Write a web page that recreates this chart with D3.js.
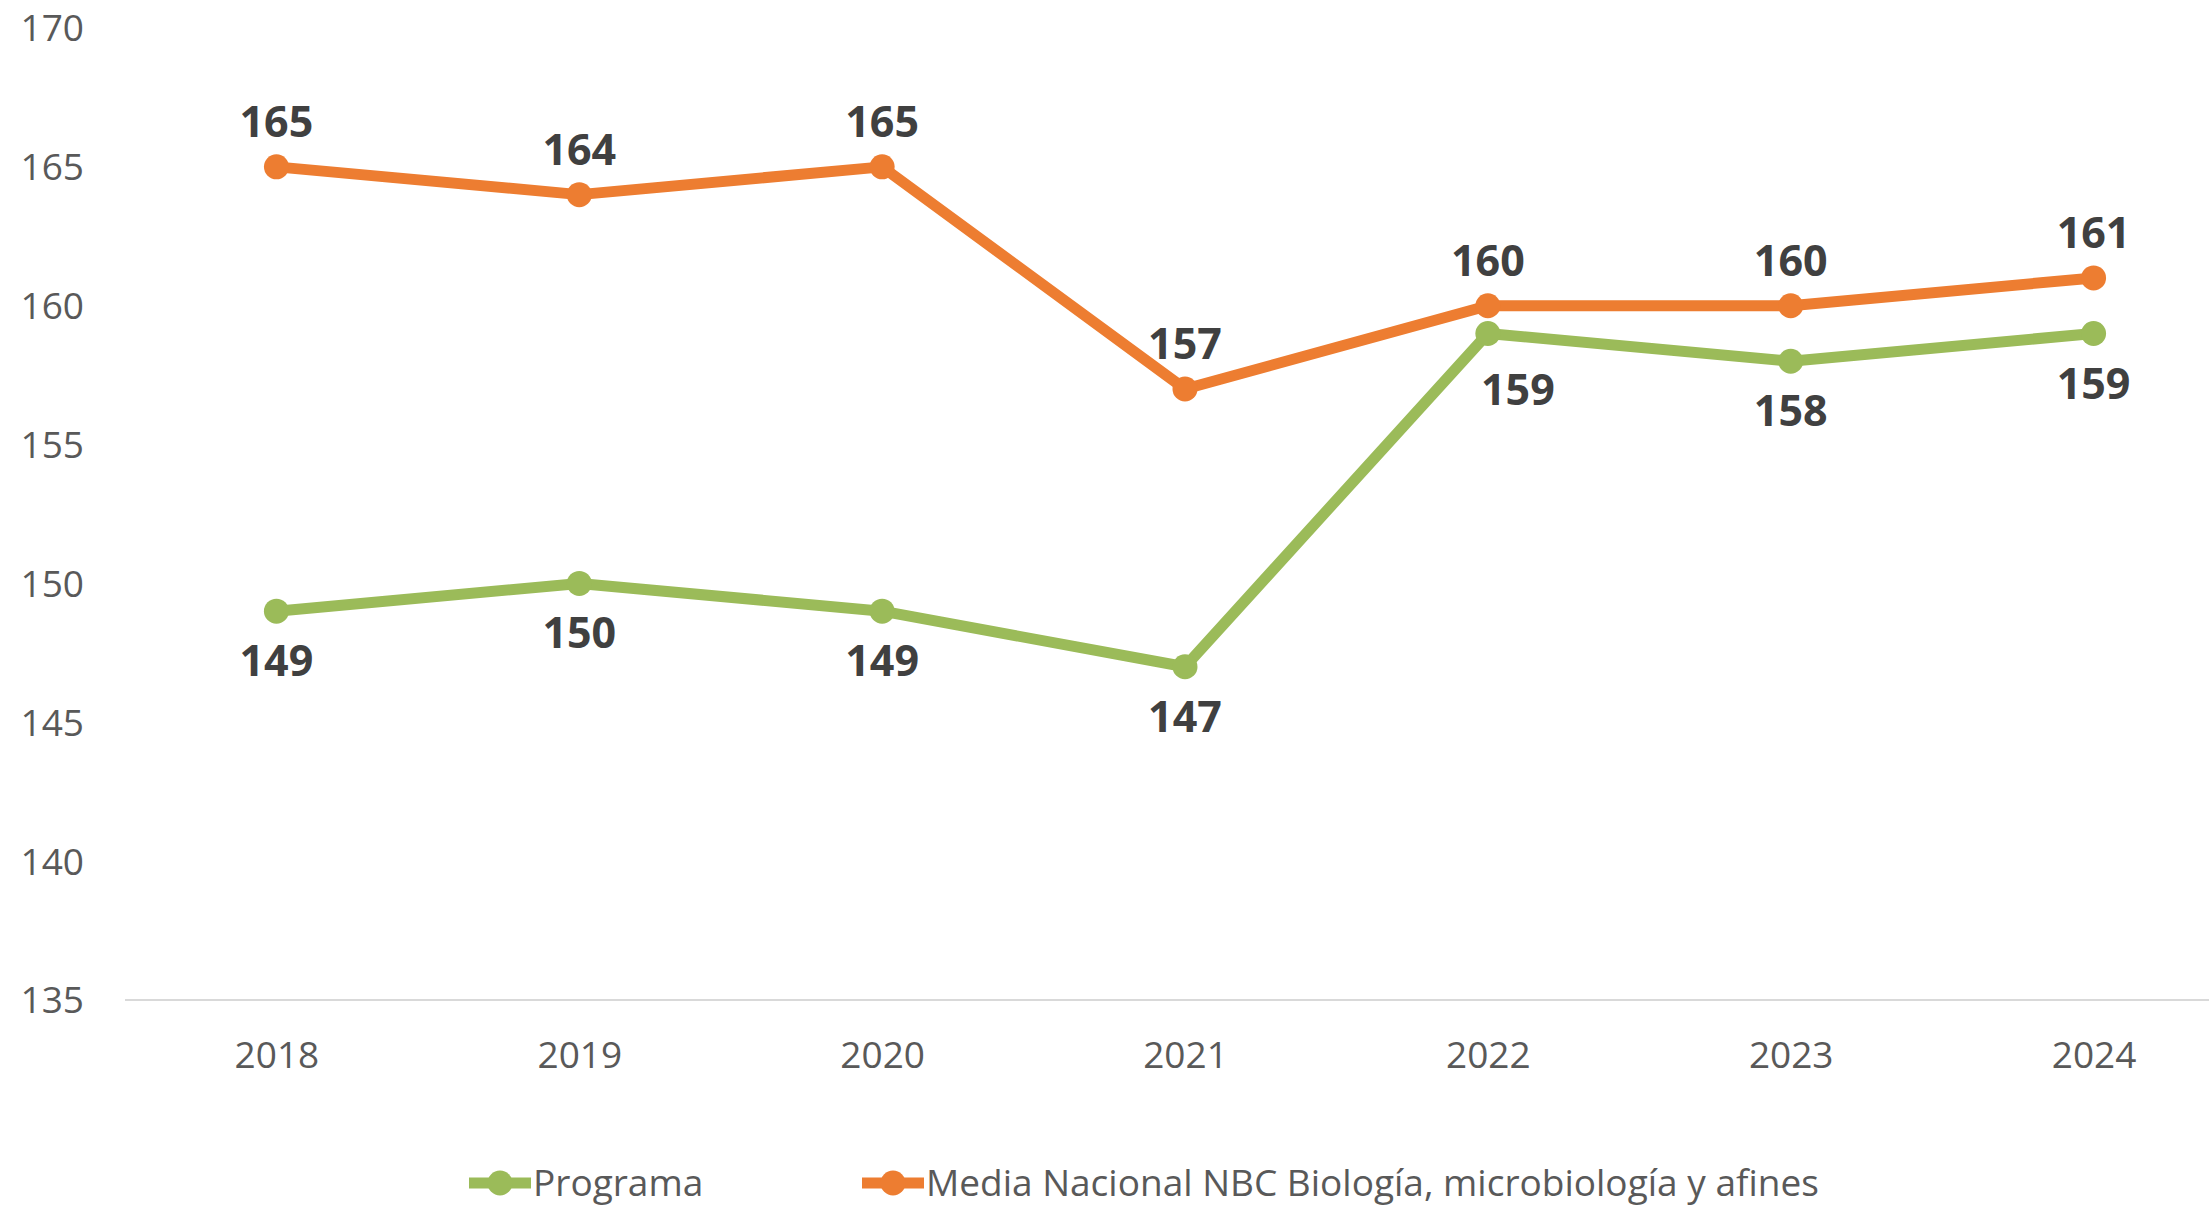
<!DOCTYPE html>
<html>
<head>
<meta charset="utf-8">
<script src="https://cdn.jsdelivr.net/npm/d3@7"></script>
<style>
  html, body { margin: 0; padding: 0; background: #ffffff; }
  svg { display: block; }
</style>
</head>
<body>
<svg id="chart" width="2209" height="1208"></svg>
<script>
// ---- data ----
const years = ["2018", "2019", "2020", "2021", "2022", "2023", "2024"];
const programa = [149, 150, 149, 147, 159, 158, 159];
const mediaNacional = [165, 164, 165, 157, 160, 160, 161];
const yTicks = [135, 140, 145, 150, 155, 160, 165, 170];
const seriesNames = ["Programa", "Media Nacional NBC Biología, microbiología y afines"];
// manual nudges of the Programa data labels (dx, dy) as in the source chart
const programaLabelNudge = [[0,0],[0,0],[0,0],[0,0],[30,6],[0,0],[0,0]];

const COLORS = { programa: "#9BBB59", media: "#ED7D31" };
const FONT = "'Open Sans', 'Noto Sans', sans-serif";

const svg = d3.select("#chart");

const x = d3.scalePoint().domain(years).range([125, 2245]).padding(0.5);
const y = d3.scaleLinear().domain([135, 170]).range([1000, 28]);

// baseline axis line
svg.append("line")
  .attr("x1", 125).attr("x2", 2209)
  .attr("y1", y(135)).attr("y2", y(135))
  .attr("stroke", "#D9D9D9").attr("stroke-width", 2);

// y axis labels
const yAxis = d3.axisLeft(y).tickValues(yTicks).tickSize(0).tickPadding(0);
const gy = svg.append("g").attr("transform", "translate(84,0)").call(yAxis);
gy.select(".domain").remove();
gy.selectAll("text")
  .attr("font-family", FONT).attr("font-size", 37).attr("fill", "#595959")
  .attr("dy", "0.35em");

// x axis labels
const xAxis = d3.axisBottom(x).tickSize(0).tickPadding(0);
const gx = svg.append("g").attr("transform", "translate(0,1055)").call(xAxis);
gx.select(".domain").remove();
gx.selectAll("text")
  .attr("font-family", FONT).attr("font-size", 37).attr("fill", "#595959")
  .attr("dy", "0.35em");

const line = d3.line().x((d, i) => x(years[i])).y(d => y(d));

function drawSeries(values, color, labelAbove, nudges) {
  const g = svg.append("g");
  g.append("path")
    .datum(values)
    .attr("d", line)
    .attr("fill", "none")
    .attr("stroke", color)
    .attr("stroke-width", 11)
    .attr("stroke-linejoin", "round");
  g.selectAll("circle").data(values).enter().append("circle")
    .attr("cx", (d, i) => x(years[i]))
    .attr("cy", d => y(d))
    .attr("r", 12.5)
    .attr("fill", color);
  g.selectAll("text").data(values).enter().append("text")
    .attr("x", (d, i) => x(years[i]) + (nudges ? nudges[i][0] : 0))
    .attr("y", (d, i) => y(d) + (labelAbove ? -45 : 50) + (nudges ? nudges[i][1] : 0))
    .attr("dy", "0.35em")
    .attr("text-anchor", "middle")
    .attr("font-family", FONT).attr("font-size", 43).attr("font-weight", "bold")
    .attr("fill", "#404040")
    .text(d => d);
}

drawSeries(programa, COLORS.programa, false, programaLabelNudge);
drawSeries(mediaNacional, COLORS.media, true, null);

// legend
const legendItems = [
  { name: seriesNames[0], color: COLORS.programa, x: 469 },
  { name: seriesNames[1], color: COLORS.media, x: 862 }
];
const ly = 1183;
const lg = svg.append("g");
legendItems.forEach(item => {
  lg.append("line")
    .attr("x1", item.x).attr("x2", item.x + 62)
    .attr("y1", ly).attr("y2", ly)
    .attr("stroke", item.color).attr("stroke-width", 11);
  lg.append("circle")
    .attr("cx", item.x + 31).attr("cy", ly).attr("r", 12.5)
    .attr("fill", item.color);
  lg.append("text")
    .attr("x", item.x + 64).attr("y", ly).attr("dy", "0.35em")
    .attr("font-family", FONT).attr("font-size", 37).attr("fill", "#595959")
    .text(item.name);
});
</script>
</body>
</html>
